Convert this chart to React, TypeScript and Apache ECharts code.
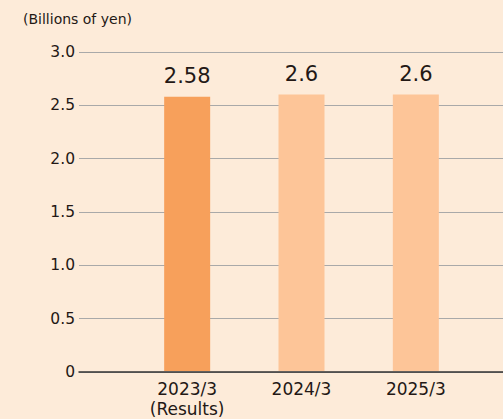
import React, { useEffect, useRef } from "react";
import * as echarts from "echarts";

const categories = ["2023/3\n(Results)", "2024/3", "2025/3"];
const values = [2.58, 2.6, 2.6];
const valueLabels = ["2.58", "2.6", "2.6"];
const barColors = ["#f7a05b", "#fdc598", "#fdc598"];
const unitLabel = "(Billions of yen)";

export default function App() {
  const ref = useRef<HTMLDivElement>(null);
  useEffect(() => {
    document.body.style.margin = "0";
    const chart = echarts.init(ref.current!, null, { renderer: "svg" });
    const font = "'DejaVu Sans', sans-serif";
    const textColor = "#231815";
    chart.setOption({
      animation: false,
      backgroundColor: "#fdebd9",
      textStyle: { fontFamily: font },
      graphic: [
        {
          type: "text",
          left: 23,
          top: 12,
          style: { text: unitLabel, fontSize: 14, fill: textColor, fontFamily: font },
        },
      ],
      grid: [
        { left: 79, right: 0, top: 52, bottom: 47 },
        { left: 130, right: 30, top: 52, bottom: 47 },
      ],
      xAxis: [
        {
          type: "category",
          gridIndex: 0,
          data: [""],
          axisLine: { show: true, lineStyle: { color: "#333333", width: 1.5 } },
          axisTick: { show: false },
          axisLabel: { show: false },
          z: 5,
        },
        {
          type: "category",
          gridIndex: 1,
          data: categories,
          axisLine: { show: false },
          axisTick: { show: false },
          axisLabel: {
            color: textColor,
            fontSize: 17,
            lineHeight: 20,
            margin: 8,
            fontFamily: font,
          },
        },
      ],
      yAxis: [
        {
          type: "value",
          gridIndex: 0,
          min: 0,
          max: 3,
          interval: 0.5,
          axisLine: { show: false },
          axisTick: { show: false },
          splitLine: { show: true, lineStyle: { color: "#a9a9a9", width: 1 } },
          axisLabel: {
            color: textColor,
            fontSize: 15.5,
            margin: 4,
            fontFamily: font,
            formatter: (v: number) => (v === 0 ? "0" : v.toFixed(1)),
          },
        },
        {
          type: "value",
          gridIndex: 1,
          min: 0,
          max: 3,
          interval: 0.5,
          show: false,
          splitLine: { show: false },
        },
      ],
      series: [
        {
          type: "bar",
          xAxisIndex: 1,
          yAxisIndex: 1,
          barWidth: 46,
          data: values.map((v, i) => ({ value: v, itemStyle: { color: barColors[i] } })),
          label: {
            show: true,
            position: "top",
            distance: 10,
            fontSize: 21,
            color: textColor,
            fontFamily: font,
            formatter: (p: any) => valueLabels[p.dataIndex],
          },
        },
      ],
    });
    return () => chart.dispose();
  }, []);
  return <div ref={ref} style={{ position: "absolute", left: 0, top: 0, width: 503, height: 419 }} />;
}
